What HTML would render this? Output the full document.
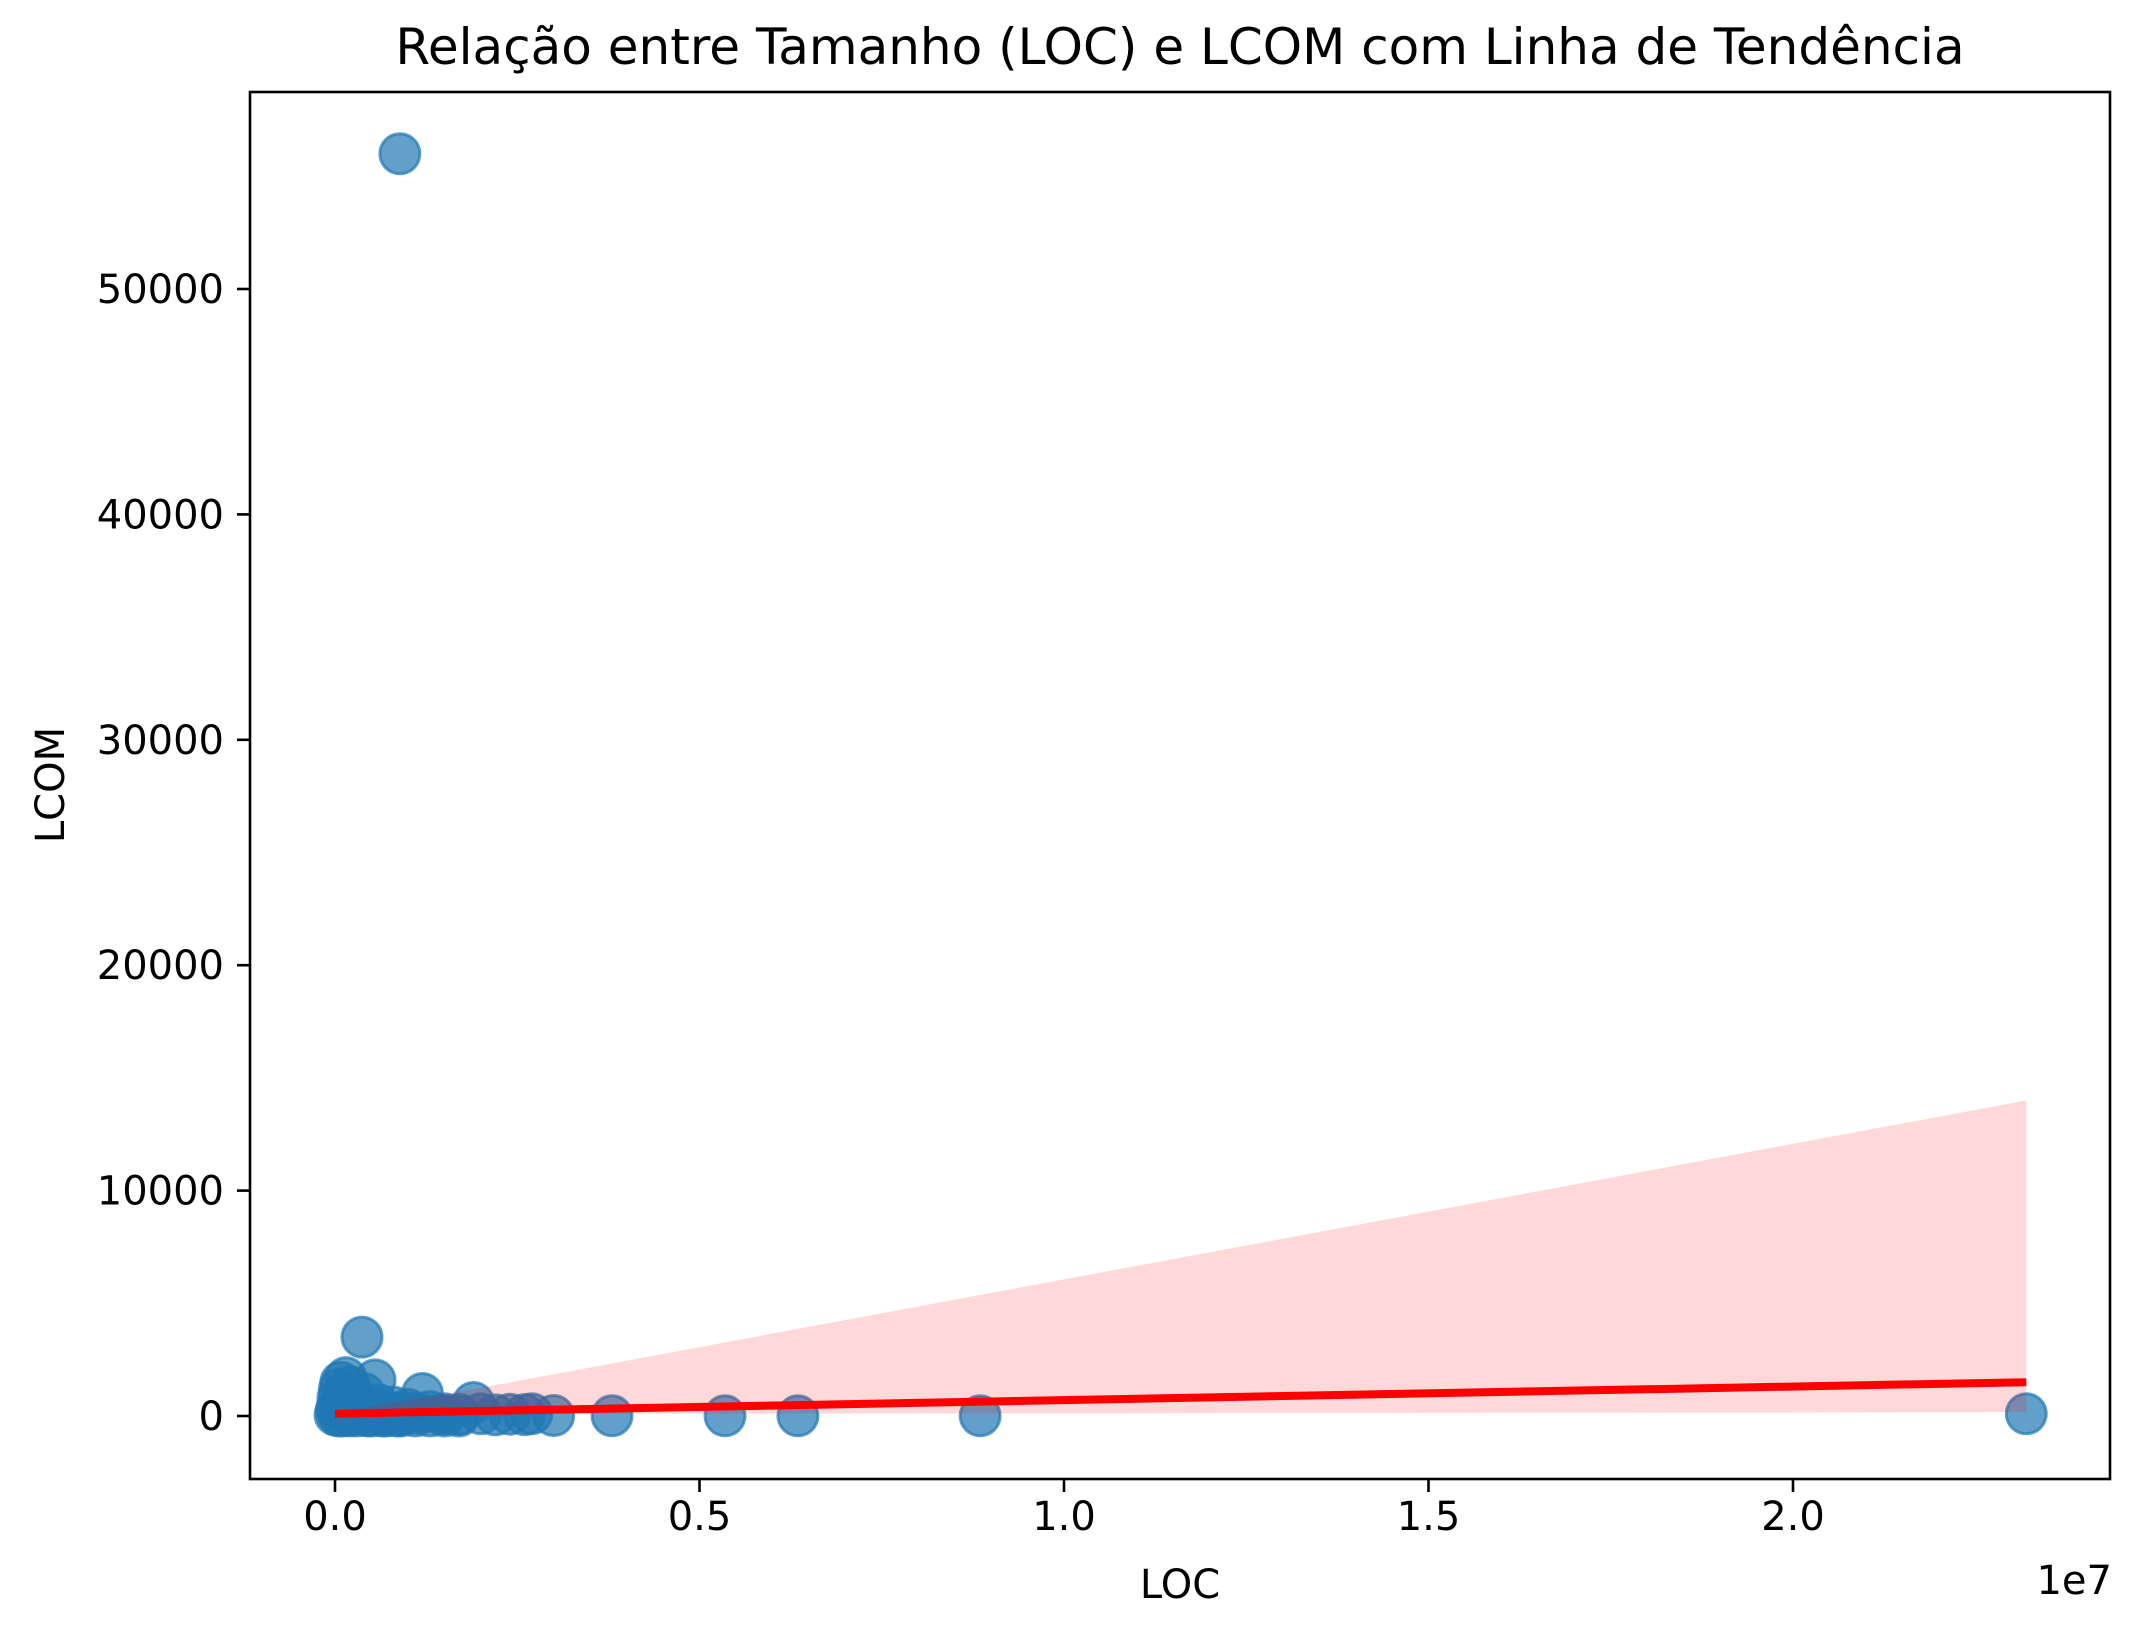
<!DOCTYPE html>
<html><head><meta charset="utf-8"><style>
html,body{margin:0;padding:0;background:#fff}
svg text{font-family:"DejaVu Sans","Liberation Sans",sans-serif;fill:#000}
</style></head><body>
<svg id="chart" width="2140" height="1639" viewBox="0 0 2140 1639" xmlns="http://www.w3.org/2000/svg">
<rect width="2140" height="1639" fill="#fff"/>
<text x="1180" y="64" font-size="50" text-anchor="middle">Relação entre Tamanho (LOC) e LCOM com Linha de Tendência</text>
<g id="plot"></g>
<rect x="250" y="92" width="1860" height="1387" fill="none" stroke="#000" stroke-width="2.6"/>
<g id="axes"></g>
<text x="1180" y="1598" font-size="40" text-anchor="middle">LOC</text>
<text x="2112" y="1594" font-size="40" text-anchor="end">1e7</text>
<text x="0" y="0" font-size="40" text-anchor="middle" transform="translate(64,785) rotate(-90)">LCOM</text>
</svg>
<script>
// data (x in units of 1e7 LOC)
const locValues = [0.0,0.002,0.004,0.006,0.008,0.01,0.012,0.015,0.018,0.02,0.025,0.03,0.035,0.037,0.04,0.05,0.055,0.06,0.07,0.08,0.09,0.1,0.11,0.12,0.13,0.15,0.17,0.19,0.2,0.22,0.24,0.26,0.27,0.3,0.38,0.535,0.635,0.885,0.089,2.32,0.01,0.03,0.05,0.07,0.09,0.11,0.13,0.15,0.17,0.005,0.02,0.045,0.065,0.085];
const lcomValues = [50,300,800,1200,1500,600,900,1700,400,1300,200,700,100,3500,1000,300,1600,500,200,400,100,300,150,1000,200,100,80,600,100,50,80,60,100,20,10,10,10,10,56000,100,0,0,0,0,0,0,0,0,0,0,0,0,0,0];
const ciX = [0.0,0.2,2.32];
const ciUpper = [150,1250,14000];
const ciLower = [60,90,170];
const trendX = [0.0,2.32];
const trendY = [100,1500];
const xTicks = [0,0.5,1.0,1.5,2.0];
const xTickLabels = ["0.0","0.5","1.0","1.5","2.0"];
const yTicks = [0,10000,20000,30000,40000,50000];
const yTickLabels = ["0","10000","20000","30000","40000","50000"];

const NS="http://www.w3.org/2000/svg";
const xs = v => 335 + v*729;
const ys = v => 1416 - v*0.02254;
function mk(tag,attrs,parent){const e=document.createElementNS(NS,tag);for(const k in attrs)e.setAttribute(k,attrs[k]);parent.appendChild(e);return e;}
const plot=document.getElementById('plot');
const axes=document.getElementById('axes');

locValues.forEach((x,i)=>{
  const c=mk('circle',{cx:xs(x),cy:ys(lcomValues[i]),r:20,fill:'#1f77b4','fill-opacity':0.7,stroke:'#1f77b4','stroke-opacity':0.7,'stroke-width':3},plot);
  
  
});
let d='M'+ciX.map((x,i)=>xs(x)+','+ys(ciUpper[i])).join(' L');
for(let i=ciX.length-1;i>=0;i--) d+=' L'+xs(ciX[i])+','+ys(ciLower[i]);
const band=mk('path',{d:d+' Z',fill:'#ff0000','fill-opacity':0.15,stroke:'none'},plot);


const tl=mk('line',{x1:xs(trendX[0]),y1:ys(trendY[0]),x2:xs(trendX[1]),y2:ys(trendY[1]),stroke:'#ff0000','stroke-width':8},plot);



xTicks.forEach((t,i)=>{
  const l=mk('line',{x1:xs(t),x2:xs(t),y1:1479,y2:1492,stroke:'#000','stroke-width':2.6},axes);
  
  
  const tx=mk('text',{x:xs(t),y:1530,'font-size':40,'text-anchor':'middle'},axes);
  tx.textContent=xTickLabels[i];
  
  
});
yTicks.forEach((t,i)=>{
  const l=mk('line',{x1:237,x2:250,y1:ys(t),y2:ys(t),stroke:'#000','stroke-width':2.6},axes);
  
  
  const tx=mk('text',{x:224,y:ys(t)+14,'font-size':40,'text-anchor':'end'},axes);
  tx.textContent=yTickLabels[i];
  
  
});
</script>
</body></html>
